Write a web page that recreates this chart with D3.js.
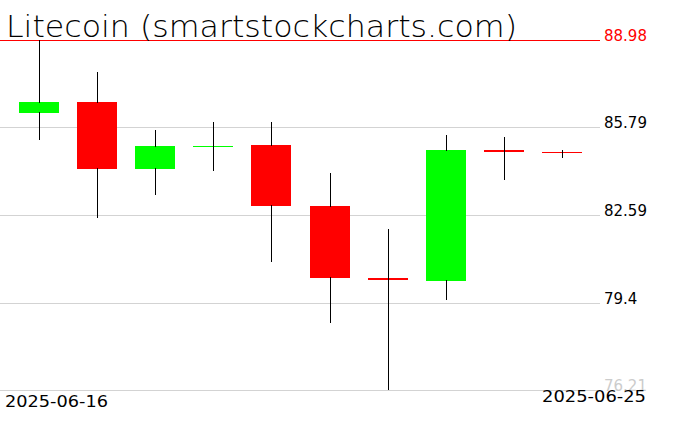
<!DOCTYPE html>
<html>
<head>
<meta charset="utf-8">
<script src="https://cdn.jsdelivr.net/npm/d3@7"></script>
<style>
html,body{margin:0;padding:0;background:#fff;}
svg{display:block;}
</style>
</head>
<body>
<svg id="chart" width="676" height="431"></svg>
<script>
const dates = ["2025-06-16","2025-06-17","2025-06-18","2025-06-19","2025-06-20","2025-06-21","2025-06-22","2025-06-23","2025-06-24","2025-06-25"];
const opens  = [86.30, 86.73, 84.26, 85.11, 85.16, 82.93, 80.28, 80.19, 84.97, 84.91];
const highs  = [88.98, 87.83, 85.71, 86.00, 86.00, 84.14, 82.09, 85.53, 85.45, 84.98];
const lows   = [85.34, 82.47, 83.33, 84.19, 80.89, 78.66, 76.21, 79.50, 83.86, 84.66];
const closes = [86.73, 84.26, 85.12, 85.12, 82.93, 80.28, 80.21, 84.98, 84.88, 84.85];
const tickValues = [76.21, 79.4, 82.59, 85.79, 88.98];
const tickLabels = ["76.21", "79.4", "82.59", "85.79", "88.98"];
const title = "Litecoin (smartstockcharts.com)";

const svg = d3.select("#chart");
const x = d3.scaleBand().domain(dates).range([10, 591]);
const y = d3.scaleLinear().domain([76.21, 88.98]).range([390, 40]);
const bodyW = 40;

// grid lines
const g = svg.append("g");
tickValues.forEach((v, i) => {
  const top = i === tickValues.length - 1;
  g.append("line")
    .attr("x1", 0).attr("x2", 600)
    .attr("y1", Math.round(y(v)) + 0.5).attr("y2", Math.round(y(v)) + 0.5)
    .attr("stroke", top ? "#ff0000" : "#d3d3d3")
    .attr("stroke-width", 1);
});

// candles
const data = dates.map((d, i) => ({d, o: opens[i], h: highs[i], l: lows[i], c: closes[i]}));
const cg = svg.append("g").attr("shape-rendering", "crispEdges");
data.forEach(k => {
  const cx = Math.round(x(k.d) + x.bandwidth() / 2);
  const yt = y(Math.max(k.o, k.c));
  const yb = y(Math.min(k.o, k.c));
  const h = Math.max(1, yb - yt);
  cg.append("rect")
    .attr("x", cx - bodyW / 2).attr("width", bodyW)
    .attr("y", yt).attr("height", h)
    .attr("fill", k.c >= k.o ? "#00ff00" : "#ff0000");
  cg.append("line")
    .attr("x1", cx + 0.5).attr("x2", cx + 0.5)
    .attr("y1", y(k.h)).attr("y2", yt + 1)
    .attr("stroke", "#000").attr("stroke-width", 1);
  cg.append("line")
    .attr("x1", cx + 0.5).attr("x2", cx + 0.5)
    .attr("y1", yt + h - 1).attr("y2", y(k.l))
    .attr("stroke", "#000").attr("stroke-width", 1);
});

// price labels
tickValues.forEach((v, i) => {
  const top = i === tickValues.length - 1;
  const bottom = i === 0;
  svg.append("text")
    .attr("x", 604).attr("y", Math.round(y(v)) + 1)
    .attr("font-family", "DejaVu Sans").attr("font-size", 15)
    .attr("fill", top ? "#ff0000" : (bottom ? "#cccccc" : "#000"))
    .text(tickLabels[i]);
});

// date labels
svg.append("text")
  .attr("x", 5).attr("y", 407)
  .attr("font-family", "DejaVu Sans").attr("font-size", 16.5)
  .attr("textLength", 103).attr("lengthAdjust", "spacingAndGlyphs")
  .text(dates[0]);
svg.append("text")
  .attr("x", 646).attr("y", 402).attr("text-anchor", "end")
  .attr("font-family", "DejaVu Sans").attr("font-size", 16.5)
  .attr("textLength", 104).attr("lengthAdjust", "spacingAndGlyphs")
  .text(dates[dates.length - 1]);

// title
svg.append("text")
  .attr("x", 6).attr("y", 37)
  .attr("font-family", "DejaVu Sans").attr("font-weight", 200).attr("font-size", 30)
  .attr("textLength", 511).attr("lengthAdjust", "spacingAndGlyphs")
  .text(title);
</script>
</body>
</html>
